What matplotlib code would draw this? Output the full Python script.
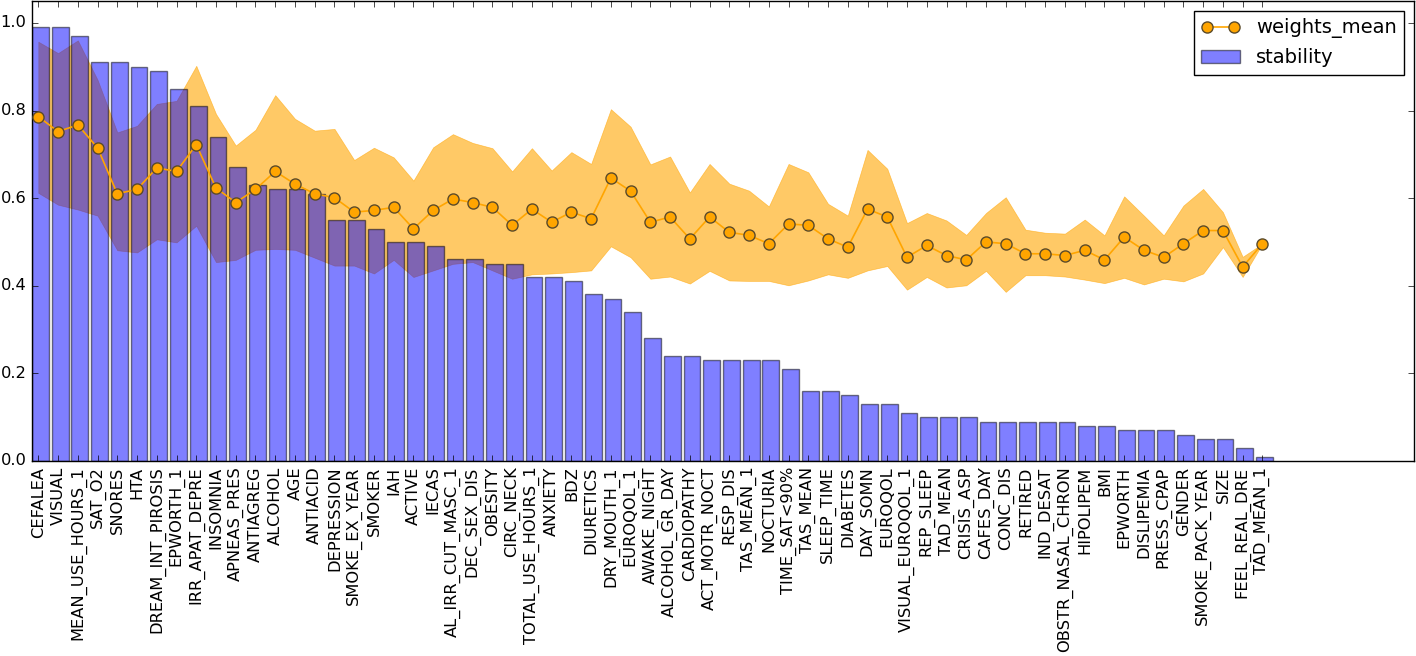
import matplotlib
matplotlib.use('Agg')
import matplotlib.pyplot as plt
import numpy as np

# Variables, ordered by stability
variaveis = ['CEFALEA', 'VISUAL', 'MEAN_USE_HOURS_1', 'SAT_O2', 'SNORES', 'HTA',
             'DREAM_INT_PIROSIS', 'EPWORTH_1', 'IRR_APAT_DEPRE', 'INSOMNIA',
             'APNEAS_PRES', 'ANTIAGREG', 'ALCOHOL', 'AGE', 'ANTIACID', 'DEPRESSION',
             'SMOKE_EX_YEAR', 'SMOKER', 'IAH', 'ACTIVE', 'IECAS', 'AL_IRR_CUT_MASC_1',
             'DEC_SEX_DIS', 'OBESITY', 'CIRC_NECK', 'TOTAL_USE_HOURS_1', 'ANXIETY',
             'BDZ', 'DIURETICS', 'DRY_MOUTH_1', 'EUROQOL_1', 'AWAKE_NIGHT',
             'ALCOHOL_GR_DAY', 'CARDIOPATHY', 'ACT_MOTR_NOCT', 'RESP_DIS',
             'TAS_MEAN_1', 'NOCTURIA', 'TIME_SAT<90%', 'TAS_MEAN', 'SLEEP_TIME',
             'DIABETES', 'DAY_SOMN', 'EUROQOL', 'VISUAL_EUROQOL_1', 'REP_SLEEP',
             'TAD_MEAN', 'CRISIS_ASP', 'CAFES_DAY', 'CONC_DIS', 'RETIRED',
             'IND_DESAT', 'OBSTR_NASAL_CHRON', 'HIPOLIPEM', 'BMI', 'EPWORTH',
             'DISLIPEMIA', 'PRESS_CPAP', 'GENDER', 'SMOKE_PACK_YEAR', 'SIZE',
             'FEEL_REAL_DRE', 'TAD_MEAN_1']

stability = [0.99, 0.99, 0.97, 0.91, 0.91, 0.90, 0.89, 0.85, 0.81, 0.74,
             0.67, 0.63, 0.62, 0.62, 0.61, 0.55, 0.55, 0.53, 0.50, 0.50,
             0.49, 0.46, 0.46, 0.45, 0.45, 0.42, 0.42, 0.41, 0.38, 0.37,
             0.34, 0.28, 0.24, 0.24, 0.23, 0.23, 0.23, 0.23, 0.21, 0.16,
             0.16, 0.15, 0.13, 0.13, 0.11, 0.10, 0.10, 0.10, 0.09, 0.09,
             0.09, 0.09, 0.09, 0.08, 0.08, 0.07, 0.07, 0.07, 0.06, 0.05,
             0.05, 0.03, 0.01]

weights_mean = [0.786, 0.752, 0.767, 0.715, 0.610, 0.620, 0.669, 0.661, 0.722, 0.623,
                0.590, 0.620, 0.661, 0.632, 0.610, 0.601, 0.568, 0.572, 0.579, 0.530,
                0.572, 0.598, 0.590, 0.579, 0.538, 0.575, 0.545, 0.568, 0.553, 0.646,
                0.616, 0.545, 0.557, 0.507, 0.557, 0.522, 0.515, 0.496, 0.541, 0.538,
                0.507, 0.488, 0.575, 0.557, 0.465, 0.492, 0.469, 0.459, 0.500, 0.496,
                0.473, 0.473, 0.469, 0.481, 0.459, 0.511, 0.481, 0.465, 0.496, 0.526,
                0.526, 0.443, 0.496]

weights_upper = [0.957, 0.931, 0.960, 0.870, 0.750, 0.765, 0.815, 0.822, 0.902, 0.792,
                 0.720, 0.756, 0.835, 0.781, 0.754, 0.758, 0.687, 0.715, 0.693, 0.640,
                 0.716, 0.746, 0.726, 0.714, 0.661, 0.714, 0.663, 0.705, 0.678, 0.803,
                 0.763, 0.677, 0.695, 0.613, 0.678, 0.633, 0.617, 0.581, 0.678, 0.659,
                 0.587, 0.560, 0.710, 0.667, 0.543, 0.566, 0.549, 0.516, 0.566, 0.602,
                 0.528, 0.521, 0.519, 0.551, 0.515, 0.604, 0.560, 0.515, 0.583, 0.621,
                 0.568, 0.466, 0.496]

weights_lower = [0.612, 0.585, 0.574, 0.560, 0.481, 0.476, 0.506, 0.499, 0.537, 0.454,
                 0.459, 0.482, 0.484, 0.482, 0.464, 0.446, 0.446, 0.428, 0.459, 0.420,
                 0.435, 0.450, 0.454, 0.435, 0.416, 0.426, 0.428, 0.431, 0.435, 0.490,
                 0.465, 0.416, 0.421, 0.405, 0.434, 0.412, 0.411, 0.411, 0.401, 0.412,
                 0.426, 0.418, 0.435, 0.445, 0.391, 0.420, 0.396, 0.401, 0.434, 0.386,
                 0.424, 0.424, 0.421, 0.414, 0.406, 0.418, 0.403, 0.416, 0.410, 0.428,
                 0.488, 0.420, 0.496]

plt.style.use('classic')
plt.rcParams['font.family'] = ['DejaVu Sans']

fig = plt.figure(figsize=(14.16, 6.56), dpi=100, facecolor='white')
ax = fig.add_axes([0.0226, 0.2973, 0.976, 0.7012])

x = np.arange(len(variaveis))
xc = x + 0.32

# banda dos pesos (por baixo das barras)
ax.fill_between(xc, weights_lower, weights_upper, color='orange', alpha=0.6,
                linewidth=0.5, edgecolor='orange', zorder=1)

# barras de estabilidade
ax.bar(x, stability, width=0.85, align='edge', color='blue', alpha=0.5,
       edgecolor='black', linewidth=1, label='stability', zorder=2)

# media dos pesos
ax.plot(xc, weights_mean, 'o-', color='orange', markersize=8, linewidth=1.2,
        markeredgecolor='#5a4a2a', markeredgewidth=1, label='weights_mean', zorder=3)

ax.set_xlim(0, 70)
ax.set_ylim(0, 1.05)
ax.set_xticks(xc)
ax.set_xticklabels(variaveis, rotation=90, fontsize=11.7)
ax.set_yticks([0.0, 0.2, 0.4, 0.6, 0.8, 1.0])
ax.tick_params(axis='y', labelsize=11.7)

ax.legend(loc='upper right', fontsize=14, numpoints=2)

fig.savefig('out.png', dpi=100, facecolor='white')
